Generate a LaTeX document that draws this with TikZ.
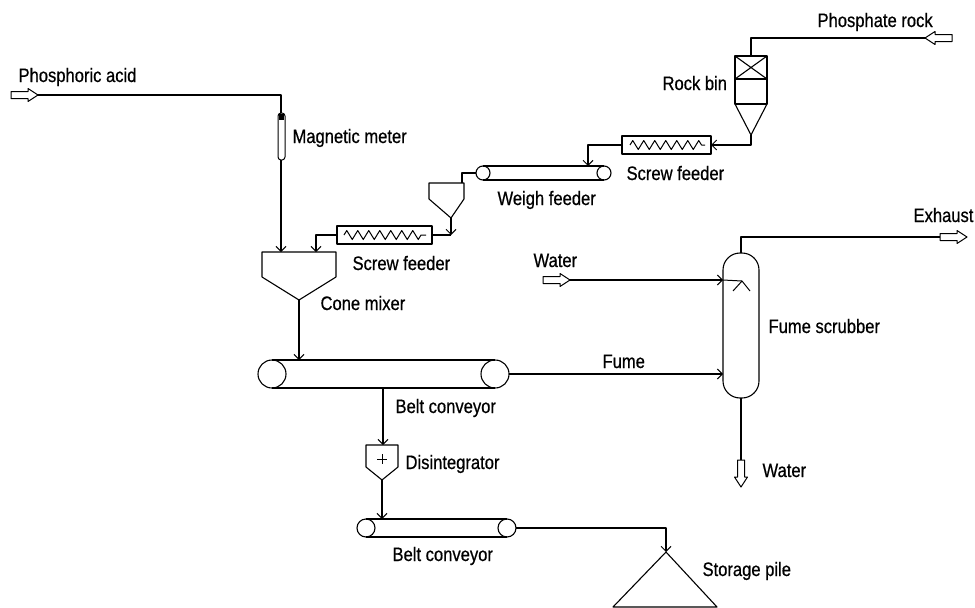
\documentclass[tikz,border=0pt]{standalone}
\usepackage{fontspec}
\setmainfont[FakeStretch=0.85,FakeBold=0.6]{Liberation Sans}
\usetikzlibrary{arrows.meta,decorations.pathmorphing}
\begin{document}
\begin{tikzpicture}[x=1pt,y=-1pt,line width=1.1pt,line join=round,
  flow/.style={-{Straight Barb[length=5pt,width=10pt,line width=1pt]}},
  lbl/.style={anchor=base west,inner sep=0pt,font=\fontsize{19.5}{22}\selectfont},
  screw/.style={decorate,decoration={zigzag,segment length=11pt,amplitude=4.5pt},line width=1pt},
  hollow/.pic={\draw[line width=1pt,fill=white] (0,-3.5)--(17,-3.5)--(17,-6.5)--(27,0)--(17,6.5)--(17,3.5)--(0,3.5)--cycle;}]
\useasboundingbox (0,0) rectangle (975,608);

% ---------- labels ----------
\node[lbl] (lacid)  at (18,82)  {Phosphoric acid};
\node[lbl] (lmeter) at (292,143) {Magnetic meter};
\node[lbl] (lrock)  at (817,27) {Phosphate rock};
\node[lbl] (lbin)   at (662,90) {Rock bin};
\node[lbl] (lsf1)   at (626,180) {Screw feeder};
\node[lbl] (lweigh) at (497,205) {Weigh feeder};
\node[lbl] (lsf2)   at (352,270) {Screw feeder};
\node[lbl] (lcone)  at (320,310) {Cone mixer};
\node[lbl] (lwin)   at (533,267) {Water};
\node[lbl] (lexh)   at (913,222) {Exhaust};
\node[lbl] (lscrub) at (768,333) {Fume scrubber};
\node[lbl] (lfume)  at (602,368) {Fume};
\node[lbl] (lbelt1) at (395,413) {Belt conveyor};
\node[lbl] (ldis)   at (405,469) {Disintegrator};
\node[lbl] (lbelt2) at (392,561) {Belt conveyor};
\node[lbl] (lwout)  at (762,477) {Water};
\node[lbl] (lpile)  at (702,576) {Storage pile};

% ---------- key points ----------
\coordinate (acidin)   at (38,95);
\coordinate (acidc)    at (281,95);
\coordinate (metertop) at (281,113);
\coordinate (meterbot) at (281,160);
\coordinate (conein1)  at (281,252);
\coordinate (conein2)  at (316,252);
\coordinate (coneapex) at (299,300);
\coordinate (rockin)   at (925,38);
\coordinate (rockc)    at (751,38);
\coordinate (bintop)   at (751,56);
\coordinate (binapex)  at (751,135);
\coordinate (binc)     at (751,145);
\coordinate (sf1r)     at (711,145);
\coordinate (sf1l)     at (622,145);
\coordinate (sf1c)     at (588,145);
\coordinate (weighin)  at (588,166);
\coordinate (weighl)   at (476,173);
\coordinate (hopc)     at (462,173);
\coordinate (hoptop)   at (462,183);
\coordinate (hopapex)  at (451,218);
\coordinate (hopc2)    at (451,235);
\coordinate (sf2r)     at (432,235);
\coordinate (sf2l)     at (337,235);
\coordinate (sf2c)     at (316,235);
\coordinate (belt1in)  at (299,360);
\coordinate (belt1r)   at (509,374);
\coordinate (scrubfume) at (723,374);
\coordinate (belt1out) at (383,388);
\coordinate (disin)    at (383,445);
\coordinate (disapex)  at (382,480);
\coordinate (belt2in)  at (382,519);
\coordinate (belt2r)   at (516,528);
\coordinate (pilec)    at (666,528);
\coordinate (pileapex) at (666,552);
\coordinate (waterin)  at (570,280);
\coordinate (scrubwat) at (723,280);
\coordinate (spray)    at (742,281);
\coordinate (scrubtop) at (741,253);
\coordinate (exhc)     at (741,237);
\coordinate (exhout)   at (940,237);
\coordinate (scrubbot) at (741,398);
\coordinate (wout)     at (741,460);

% ---------- equipment ----------
% magnetic meter
\draw[rounded corners=3pt,line width=1pt] (278,113) rectangle (285,160);
\fill (278.6,114) rectangle (284.4,120);
% cone mixer
\draw (262,252) -- (262,277) -- (coneapex) -- (336,277) -- (336,252) -- cycle;
% rock bin
\draw (735,56) rectangle (767,104);
\draw (735,79) -- (767,79);
\draw (735,56) -- (767,79) (767,56) -- (735,79);
\draw (735,104) -- (binapex) -- (767,104);
% upper screw feeder
\draw (622,136) rectangle (711,154);
\draw[screw] (630,145) -- (705,145);
% weigh feeder conveyor
\draw (483,173) circle (7);
\draw (604,173) circle (7);
\draw (483,166) -- (604,166) (483,180) -- (604,180);
% weigh hopper
\draw (429,183) -- (429,199) -- (hopapex) -- (464,199) -- (464,183) -- cycle;
% lower screw feeder
\draw (337,226) rectangle (432,244);
\draw[screw] (344,235) -- (426,235);
% main belt conveyor
\draw (272,374) circle (14);
\draw (495,374) circle (14);
\draw (272,360) -- (495,360) (272,388) -- (495,388);
% disintegrator
\draw (366,445) -- (366,467) -- (disapex) -- (398,467) -- (398,445) -- cycle;
\draw[line width=1pt] (377,459) -- (387,459) (382,454) -- (382,464);
% lower belt conveyor
\draw (366,528) circle (9);
\draw (507,528) circle (9);
\draw (366,519) -- (507,519) (366,537) -- (507,537);
% storage pile
\draw (pileapex) -- (613,607) -- (717,607) -- cycle;
% fume scrubber
\draw[rounded corners=17pt] (723,253) rectangle (759,398);
\draw[line width=1pt] (733,291) -- (spray) -- (750,291);

% ---------- hollow stream arrows ----------
\pic at (11,95) {hollow};
\pic[rotate=180] at (952,38) {hollow};
\pic at (543,280) {hollow};
\pic at (exhout) {hollow};
\pic[rotate=-90] at (wout) {hollow};

% ---------- connectors ----------
\draw (acidin) -- (acidc) -- (metertop);
\draw[flow] (meterbot) -- (conein1);
\draw (rockin) -- (rockc) -- (bintop);
\draw[flow] (binapex) -- (binc) -- (sf1r);
\draw[flow] (sf1l) -- (sf1c) -- (weighin);
\draw (weighl) -- (hopc) -- (hoptop);
\draw[flow] (hopapex) -- (hopc2);
\draw (hopc2) -- (sf2r);
\draw[flow] (sf2l) -- (sf2c) -- (conein2);
\draw[flow] (coneapex) -- (belt1in);
\draw[flow] (belt1r) -- (scrubfume);
\draw[flow] (belt1out) -- (disin);
\draw[flow] (disapex) -- (belt2in);
\draw[flow] (belt2r) -- (pilec) -- (pileapex);
\draw[flow] (waterin) -- (scrubwat);
\draw[line width=1pt] (scrubwat) -- (spray);
\draw (scrubtop) -- (exhc) -- (exhout);
\draw (scrubbot) -- (wout);
\end{tikzpicture}
\end{document}
